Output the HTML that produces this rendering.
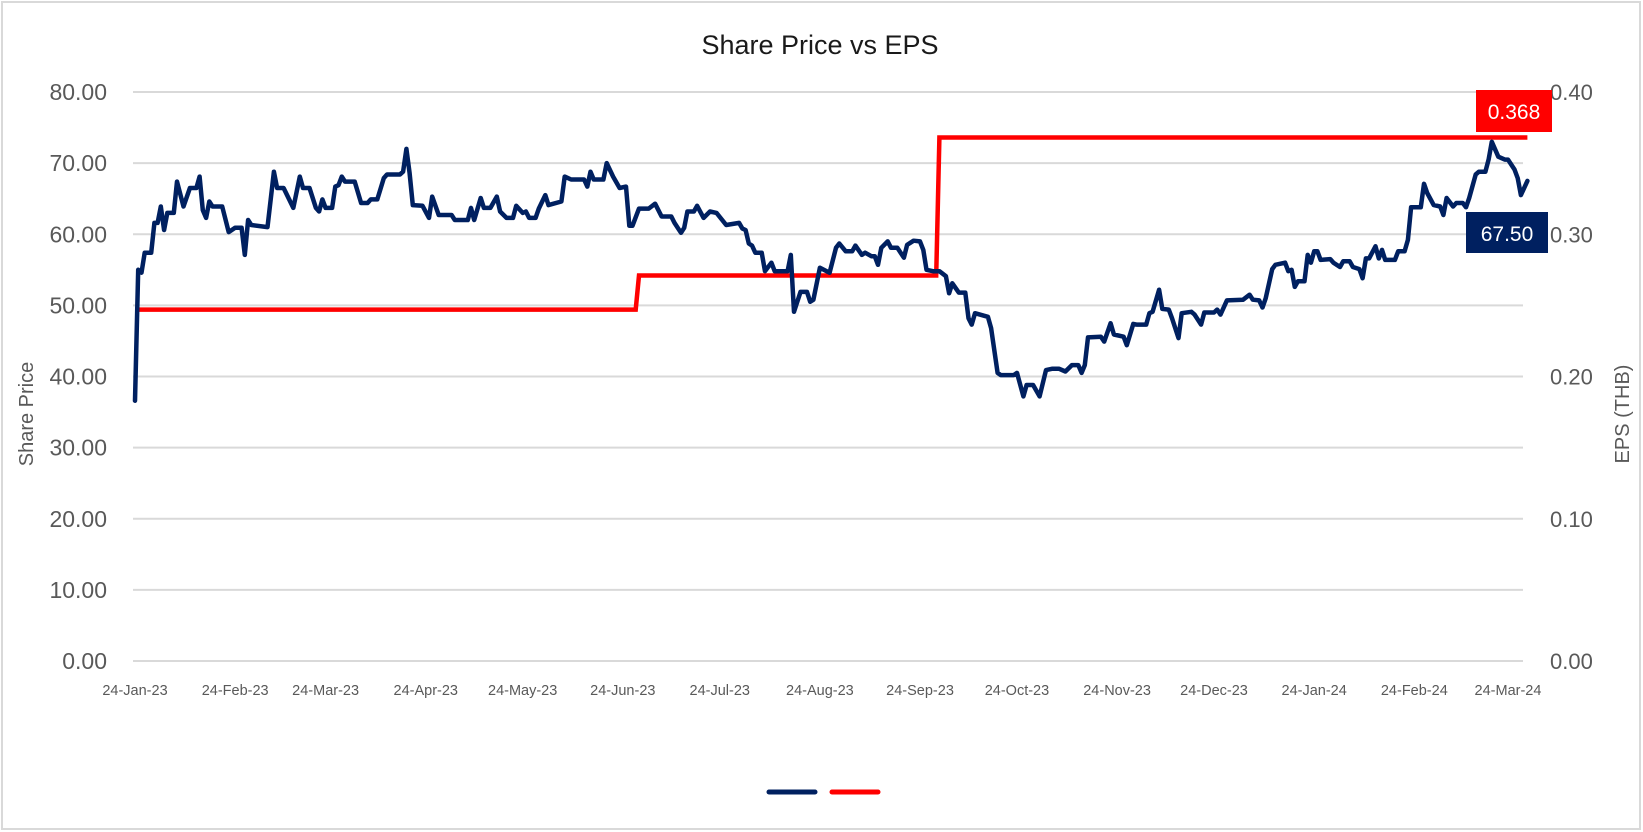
<!DOCTYPE html>
<html><head><meta charset="utf-8"><style>
html,body{margin:0;padding:0;background:#fff;}
svg{display:block;font-family:"Liberation Sans",sans-serif;}
</style></head><body>
<svg id="chart" width="1643" height="832" viewBox="0 0 1643 832" xmlns="http://www.w3.org/2000/svg">
<rect x="2" y="2" width="1638" height="827" fill="#fff" stroke="#d9d9d9" stroke-width="2"/>
<text x="820" y="54" text-anchor="middle" font-size="27" fill="#1a1a1a">Share Price vs EPS</text>
<g id="grid"></g>
<g id="yl"></g>
<g id="yr"></g>
<g id="xl"></g>
<text transform="translate(33,414) rotate(-90)" text-anchor="middle" font-size="20" fill="#595959">Share Price</text>
<text transform="translate(1629,414) rotate(-90)" text-anchor="middle" font-size="20" fill="#595959">EPS (THB)</text>
<path id="eps" fill="none" stroke="#ff0000" stroke-width="4.5" stroke-linejoin="miter"/>
<path id="price" fill="none" stroke="#002060" stroke-width="4.5" stroke-linejoin="round" stroke-linecap="round"/>
<g>
<rect x="1476" y="90" width="76" height="42" fill="#ff0000"/>
<text id="epsLbl" x="1514" y="119" text-anchor="middle" font-size="21" fill="#fff">0.368</text>
</g>
<g>
<rect x="1466" y="212" width="82" height="41" fill="#002060"/>
<text id="priceLbl" x="1507" y="241" text-anchor="middle" font-size="21" fill="#fff">67.50</text>
</g>
<line x1="769" y1="792" x2="815" y2="792" stroke="#002060" stroke-width="5" stroke-linecap="round"/>
<line x1="832" y1="792" x2="878" y2="792" stroke="#ff0000" stroke-width="5" stroke-linecap="round"/>
</svg>
<script>
const priceDays = [0,1,2,3,5,6,7,8,9,10,12,13,15,17,19,20,21,22,23,24,27,29,31,33,34,35,36,41,43,44,46,49,51,52,54,56,57,58,59,61,62,63,64,65,68,70,72,73,75,77,78,82,83,84,85,86,89,91,92,94,98,99,103,104,105,107,108,110,112,113,115,117,118,120,121,122,124,125,127,128,132,133,135,139,140,141,142,145,146,148,150,152,153,154,156,159,161,163,166,167,169,170,171,173,174,176,178,180,183,187,188,189,190,191,192,194,195,197,198,202,203,204,206,208,209,210,212,215,217,218,220,222,223,225,226,228,229,230,231,233,234,236,238,239,241,243,244,245,247,249,251,252,253,255,257,258,259,260,264,265,267,268,272,273,275,276,278,280,282,284,286,288,290,292,293,294,295,299,300,302,303,306,307,309,310,313,314,315,317,318,320,321,323,324,327,328,330,331,334,335,336,338,343,345,346,348,349,350,352,353,356,357,358,359,360,362,363,364,365,366,367,370,371,373,374,376,377,379,380,381,382,384,385,386,387,390,391,393,394,395,398,399,400,402,404,405,406,408,409,411,412,413,415,416,418,419,420,422,424,425,427,428,429,431];
const priceValues = [36.6,55.0,54.6,57.4,57.4,61.6,61.6,63.9,60.6,63.0,63.0,67.4,63.9,66.5,66.5,68.1,63.4,62.3,64.6,63.9,63.9,60.3,60.9,60.9,57.1,62.0,61.3,61.0,68.8,66.5,66.5,63.7,68.1,66.5,66.5,63.7,63.2,64.9,63.7,63.7,66.7,66.9,68.1,67.4,67.4,64.4,64.4,64.9,64.9,67.9,68.4,68.4,68.8,72.0,68.6,64.1,64.0,62.3,65.3,62.7,62.7,62.0,62.0,63.7,62.0,65.1,63.7,63.7,65.3,63.2,62.3,62.3,64.0,63.0,63.2,62.3,62.3,63.6,65.5,64.1,64.6,68.1,67.7,67.7,66.7,68.8,67.7,67.7,70.0,68.1,66.5,66.7,61.2,61.2,63.6,63.6,64.3,62.5,62.5,61.6,60.2,60.9,63.2,63.2,64.0,62.3,63.2,63.0,61.3,61.6,60.8,60.6,58.7,58.4,57.4,57.4,54.8,56.0,54.8,54.8,57.1,49.1,51.9,51.9,50.5,50.8,55.3,54.6,58.1,58.7,57.6,57.6,58.4,57.1,57.4,56.9,56.9,55.7,58.1,59.0,58.1,58.1,56.7,58.5,59.1,59.0,57.8,55.0,54.8,54.8,54.1,51.7,53.1,51.8,51.8,48.2,47.3,48.9,48.4,46.8,40.5,40.2,40.2,40.5,37.2,38.8,38.8,37.2,40.9,41.1,41.1,40.7,41.6,41.6,40.5,41.6,45.5,45.6,44.9,47.5,45.9,45.6,44.4,47.4,47.3,47.3,48.9,49.1,52.2,49.5,49.4,48.2,45.4,48.9,49.1,48.7,47.3,49.0,49.0,49.4,48.7,50.7,50.8,51.5,50.8,50.7,49.7,51.0,55.1,55.7,56.0,54.8,55.0,52.6,53.4,53.4,57.1,56.0,57.6,57.6,56.4,56.5,56.0,55.4,56.2,56.2,55.4,55.1,53.8,56.6,56.6,58.3,56.6,57.8,56.4,56.4,57.6,57.6,59.2,63.8,63.8,67.1,65.8,64.1,63.9,62.7,65.1,63.9,64.4,64.4,63.8,65.1,68.4,68.8,68.8,70.5,73.0,70.9,70.5,70.5,69.1,67.9,65.5,67.5];
const epsDays = [0,156,249];
const epsValues = [0.247,0.271,0.368];
const epsEndDay = 431;
const leftTicks = [0,10,20,30,40,50,60,70,80];
const rightTicks = [0,0.1,0.2,0.3,0.4];
const xTickDays = [0,31,59,90,120,151,181,212,243,273,304,334,365,396,425];
const xTickLabels = ["24-Jan-23","24-Feb-23","24-Mar-23","24-Apr-23","24-May-23","24-Jun-23","24-Jul-23","24-Aug-23","24-Sep-23","24-Oct-23","24-Nov-23","24-Dec-23","24-Jan-24","24-Feb-24","24-Mar-24"];

const NS="http://www.w3.org/2000/svg";
const X0=135, XD=1508, D1=425;
function xs(d){return X0+(d/D1)*(XD-X0);}
function yl(v){return 661-(v/80)*569;}
function yr(v){return 661-(v/0.4)*569;}
function mk(tag,attrs,parent){const e=document.createElementNS(NS,tag);for(const k in attrs)e.setAttribute(k,attrs[k]);parent.appendChild(e);return e;}

const grid=document.getElementById('grid');
leftTicks.forEach(function(t){
  const l=mk('line',{x1:133,x2:1523,y1:yl(t),y2:yl(t),stroke:'#d9d9d9','stroke-width':2},grid);
  
  
  const tx=mk('text',{x:107,y:yl(t)+8,'text-anchor':'end','font-size':23,fill:'#595959'},document.getElementById('yl'));
  
  
  tx.textContent=t.toFixed(2);
});
rightTicks.forEach(function(t){
  const tx=mk('text',{x:1550,y:yr(t)+8,'font-size':22,fill:'#595959'},document.getElementById('yr'));
  
  
  tx.textContent=t.toFixed(2);
});
xTickDays.forEach(function(d,i){
  const tx=mk('text',{x:xs(d),y:695,'text-anchor':'middle','font-size':14.5,fill:'#595959'},document.getElementById('xl'));
  
  
  tx.textContent=xTickLabels[i];
});
let p='';
priceDays.forEach(function(d,i){p+=(i?'L':'M')+xs(d).toFixed(1)+','+yl(priceValues[i]).toFixed(1);});
document.getElementById('price').setAttribute('d',p);
let e='';
epsDays.forEach(function(d,i){
  const end=i<epsDays.length-1?epsDays[i+1]-1:epsEndDay;
  e+=(i?'L':'M')+xs(d).toFixed(1)+','+yr(epsValues[i]).toFixed(1)+'L'+xs(end).toFixed(1)+','+yr(epsValues[i]).toFixed(1);
});
document.getElementById('eps').setAttribute('d',e);
document.getElementById('epsLbl').textContent=epsValues[epsValues.length-1].toFixed(3);
document.getElementById('priceLbl').textContent=priceValues[priceValues.length-1].toFixed(2);
</script>
</body></html>
